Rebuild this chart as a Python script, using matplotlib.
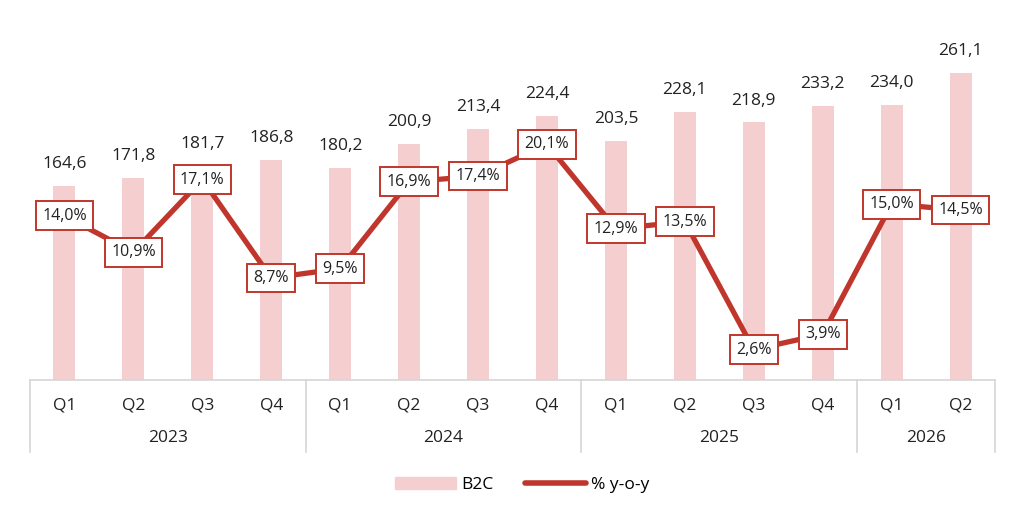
import matplotlib
matplotlib.use("Agg")
import matplotlib.pyplot as plt
from matplotlib.patches import Patch
from matplotlib.lines import Line2D
import matplotlib.transforms as mtrans

plt.rcParams['font.family'] = ['Open Sans', 'DejaVu Sans']

years = ["2023", "2024", "2025", "2026"]
year_len = [4, 4, 4, 2]
quarters = ["Q1", "Q2", "Q3", "Q4"] * 3 + ["Q1", "Q2"]
b2c = [164.6, 171.8, 181.7, 186.8, 180.2, 200.9, 213.4, 224.4,
       203.5, 228.1, 218.9, 233.2, 234.0, 261.1]
yoy = [14.0, 10.9, 17.1, 8.7, 9.5, 16.9, 17.4, 20.1,
       12.9, 13.5, 2.6, 3.9, 15.0, 14.5]

BAR = "#f5cfd0"
RED = "#c0362c"
GRID = "#d6d6d6"
TXT = "#222222"

fig = plt.figure(figsize=(10.24, 5.2), dpi=100)
ax = fig.add_axes([30/1024, 1-380/520, 965/1024, 340/520])
x = list(range(len(b2c)))
ax.bar(x, b2c, width=0.32, color=BAR, zorder=1)
ax.set_xlim(-0.5, len(b2c)-0.5)
ax.set_ylim(0, 289)
for xi, v in zip(x, b2c):
    ax.annotate(f"{v:.1f}".replace(".", ","), (xi, v), xytext=(0, 10),
                textcoords="offset points", ha="center", va="bottom",
                fontsize=12.5, color=TXT)

ax2 = ax.twinx()
ax2.set_ylim(0, 29.0)
ax2.plot(x, yoy, color=RED, lw=3.8, zorder=2, solid_joinstyle="miter")
for xi, v in zip(x, yoy):
    ax2.text(xi, v, f"{v:.1f}%".replace(".", ","), ha="center", va="center",
             fontsize=11.5, color=TXT, zorder=5,
             bbox=dict(boxstyle="square,pad=0.4", fc="white", ec=RED, lw=1.4))

for a in (ax, ax2):
    for s in a.spines.values():
        s.set_visible(False)
    a.set_xticks([])
    a.set_yticks([])

# two-level category axis
tr = mtrans.blended_transform_factory(ax.transData, ax.transAxes)
ax.plot([-0.5, len(b2c)-0.5], [0, 0], color=GRID, lw=1.2, transform=tr, clip_on=False)
bounds = [-0.5]
for n in year_len:
    bounds.append(bounds[-1] + n)
for b in bounds:
    ax.plot([b, b], [0, -0.212], color=GRID, lw=1.2, transform=tr, clip_on=False)
for xi, q in zip(x, quarters):
    ax.text(xi, -0.074, q, transform=tr, ha="center", va="center", fontsize=12.5, color=TXT)
for i, y in enumerate(years):
    mid = (bounds[i] + bounds[i+1]) / 2
    ax.text(mid, -0.171, y, transform=tr, ha="center", va="center", fontsize=12.5, color=TXT)

handles = [Patch(color=BAR, label="B2C"),
           Line2D([0], [0], color=RED, lw=4, solid_capstyle="round", label="% y-o-y")]
fig.legend(handles=handles, loc="center", bbox_to_anchor=(0.51, 1-485/520), ncol=2,
           frameon=False, fontsize=12.5, handlelength=3.5, columnspacing=1.8,
           handletextpad=0.3)

fig.savefig("out.png", dpi=100, facecolor="white")
